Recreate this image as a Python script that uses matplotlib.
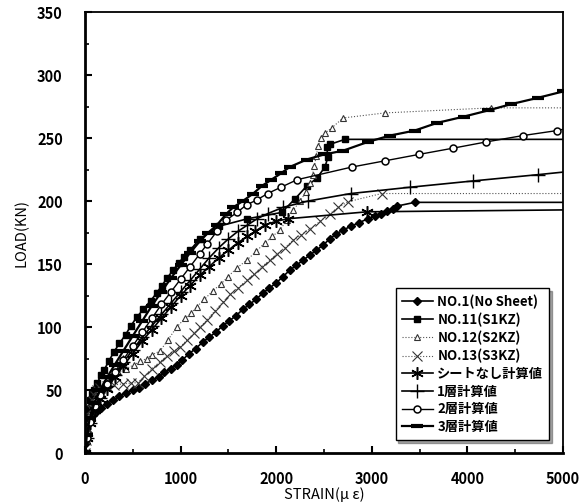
import matplotlib
matplotlib.use('Agg')
import matplotlib.pyplot as plt
from matplotlib.ticker import MultipleLocator

plt.rcParams['font.family'] = ['Noto Sans CJK JP', 'DejaVu Sans']

# --- data (strain in micro-strain, load in kN) ---
no1_x = [0, 15, 30, 50, 80, 120, 170, 230, 290, 360, 430, 500, 560, 630, 700, 770, 830, 900,
         960, 1020, 1090, 1160, 1230, 1300, 1370, 1440, 1510, 1580, 1650, 1720, 1790, 1860,
         1930, 2000, 2070, 2140, 2210, 2280, 2350, 2420, 2490, 2560, 2630, 2700, 2780, 2870,
         2960, 3030, 3100, 3160, 3220, 3260, 3450]
no1_y = [0, 8, 16, 25, 30, 33, 36, 39, 42, 45, 48, 50, 52, 55, 58, 60, 64, 67,
         70, 74, 79, 83, 88, 92, 96, 101, 105, 109, 114, 118, 122, 127,
         131, 135, 140, 145, 149, 153, 157, 161, 165, 170, 174, 177, 180, 183,
         186, 188, 190, 192, 194, 196, 199]

no11_x = [0, 10, 20, 35, 50, 70, 95, 130, 170, 200, 250, 300, 360, 425, 480, 543, 610, 687,
          750, 805, 860, 920, 980, 1040, 1100, 1200, 1400, 1700, 2057, 2200, 2320, 2424,
          2510, 2542, 2528, 2560, 2720]
no11_y = [0, 14, 25, 35, 42, 47, 50, 56, 62, 66, 73, 80, 87, 94, 101, 108, 114, 121,
          127, 133, 139, 145, 151, 156, 161, 170, 180, 186, 191, 202, 212, 218,
          227, 235, 243, 245, 249]

no12_x = [0, 10, 20, 35, 50, 70, 100, 140, 200, 270, 350, 430, 512, 580, 645, 700, 785, 870,
          960, 1046, 1110, 1168, 1250, 1339, 1420, 1496, 1590, 1691, 1790, 1883, 1960, 2040,
          2110, 2180, 2250, 2310, 2350, 2380, 2400, 2420, 2440, 2470, 2510, 2580, 2700, 3140,
          4250]
no12_y = [0, 10, 18, 26, 32, 38, 44, 50, 56, 61, 64, 67, 70, 73, 75, 78, 81, 90,
          100, 107, 111, 116, 122, 129, 134, 140, 147, 153, 160, 167, 172, 177,
          185, 193, 200, 207, 214, 221, 228, 236, 244, 250, 254, 258, 266, 270,
          274]

no13_x = [0, 10, 25, 40, 60, 80, 100, 130, 160, 230, 300, 400, 480, 554, 620, 700, 785, 860,
          930, 994, 1070, 1140, 1203, 1280, 1360, 1444, 1520, 1600, 1691, 1770, 1850, 1935,
          2010, 2090, 2176, 2260, 2354, 2460, 2563, 2650, 2751, 3103]
no13_y = [0, 10, 20, 28, 35, 41, 45, 50, 52, 53, 54, 55, 55.5, 56, 61, 67, 72.5, 77,
          81, 84, 90, 95, 100, 106, 113, 120, 126, 131, 137, 142, 148, 153,
          158, 163, 169, 173, 178, 184, 190, 195, 199.5, 206]

calc0_x = [0, 20, 50, 100, 160, 230, 310, 400, 500, 600, 700, 800, 900, 1000, 1100, 1200,
           1300, 1400, 1500, 1600, 1700, 1780, 1880, 2000, 2125, 2950, 5000]
calc0_y = [0, 12, 24, 34, 43, 51, 60, 69, 79, 89, 98, 107, 116, 125, 133, 141,
           148, 155, 161, 167, 172, 176, 181, 184, 186, 191.5, 193]

calc1_x = [0, 20, 50, 100, 160, 230, 310, 400, 500, 600, 700, 800, 900, 1000, 1100, 1200,
           1300, 1400, 1500, 1600, 1700, 1800, 1910, 2070, 2330, 2780, 3400, 4060, 4740, 5000]
calc1_y = [0, 12, 24, 35, 44, 53, 62, 72, 82, 92, 101, 110, 119, 128, 137, 146,
           155, 163, 170, 176, 181, 186, 190, 195, 200, 206, 211, 216, 221, 223]

calc2_x = [0, 20, 50, 100, 160, 230, 310, 400, 500, 600, 700, 800, 900, 1000, 1100, 1200,
           1280, 1380, 1480, 1590, 1690, 1800, 1910, 2050, 2220, 2790, 3140, 3490, 3850,
           4200, 4580, 4940, 5000]
calc2_y = [0, 12, 25, 37, 46, 55, 64, 74, 85, 96, 107, 118, 128, 138, 148, 158,
           166, 176, 185, 191, 197, 201, 206, 211, 217, 227, 232, 237, 242,
           247, 252, 256, 257]

calc3_x = [0, 20, 50, 100, 160, 230, 310, 400, 500, 600, 700, 800, 900, 1000, 1100, 1200,
           1290, 1380, 1480, 1550, 1650, 1760, 1850, 1950, 2050, 2140, 2320, 2500, 2700,
           2960, 3190, 3450, 3680, 3960, 4220, 4460, 4740, 5000]
calc3_y = [0, 14, 28, 40, 50, 60, 70, 81, 93, 105, 117, 128, 139, 149, 159, 168,
           175, 181, 190, 195, 200, 206, 212, 217, 222, 227, 233, 237, 240,
           247, 252, 256, 262, 267, 272, 277, 282, 287]

labels = ['NO.1(No Sheet)', 'NO.11(S1KZ)', 'NO.12(S2KZ)', 'NO.13(S3KZ)',
          'シートなし計算値', '1層計算値', '2層計算値', '3層計算値']

X_MAX = 5000

fig = plt.figure(figsize=(5.84, 5.04), dpi=100)
ax = fig.add_axes([0.1455, 0.101, 0.8185, 0.875])


def exp_series(xs, ys, **kw):
    # experimental curves run flat to the right edge after the last reading
    xx = list(xs) + [X_MAX]
    yy = list(ys) + [ys[-1]]
    return ax.plot(xx, yy, markevery=slice(0, len(xs)), **kw)


exp_series(no1_x, no1_y, color='black', lw=1.2, marker='D', ms=4, mfc='black',
           label=labels[0])
exp_series(no11_x, no11_y, color='black', lw=1.2, marker='s', ms=4.5, mfc='black',
           label=labels[1])
exp_series(no12_x, no12_y, color='#555555', lw=0.8, ls=':', marker='^', ms=5,
           mfc='white', mec='#333333', mew=0.8, label=labels[2])
exp_series(no13_x, no13_y, color='#555555', lw=0.8, ls=':', marker='x', ms=7,
           mec='#333333', mew=0.8, label=labels[3])

ax.plot(calc0_x, calc0_y, color='black', lw=1.2, marker=(6, 2, 0), ms=9, mew=1.1,
        markevery=slice(0, len(calc0_x) - 1), label=labels[4])
ax.plot(calc1_x, calc1_y, color='black', lw=1.2, marker='+', ms=10, mew=1.0,
        markevery=slice(0, len(calc1_x) - 1), label=labels[5])
ax.plot(calc2_x, calc2_y, color='black', lw=1.0, marker='o', ms=5, mfc='white',
        mew=1.1, markevery=slice(0, len(calc2_x) - 1), label=labels[6])
ax.plot(calc3_x, calc3_y, color='black', lw=1.6, marker='_', ms=8, mew=3,
        label=labels[7])

ax.set_xlim(0, X_MAX)
ax.set_ylim(0, 350)
ax.xaxis.set_major_locator(MultipleLocator(1000))
ax.xaxis.set_minor_locator(MultipleLocator(500))
ax.yaxis.set_major_locator(MultipleLocator(50))
ax.yaxis.set_minor_locator(MultipleLocator(25))
ax.tick_params(which='both', direction='in', top=False, right=False, labelsize=10.5)
ax.tick_params(which='major', length=5, width=1.5)
ax.tick_params(which='minor', length=3, width=1.2)
ax.tick_params(axis='x', which='major', pad=13)
ax.tick_params(axis='y', which='major', pad=16)
for lbl in ax.get_xticklabels() + ax.get_yticklabels():
    lbl.set_fontweight('bold')

for side in ['left', 'bottom']:
    ax.spines[side].set_linewidth(2)
for side in ['top', 'right']:
    ax.spines[side].set_linewidth(1.3)

ax.set_xlabel('STRAIN(μ ε)', fontsize=10.5, labelpad=0)
ax.set_ylabel('LOAD(KN)', fontsize=10.5, labelpad=6)

leg = ax.legend(loc='lower right', bbox_to_anchor=(0.985, 0.015),
                prop={'size': 9.5, 'weight': 'bold'},
                frameon=True, fancybox=False, shadow=True, handlelength=2.4,
                labelspacing=0.28, borderpad=0.45, handletextpad=0.3)
leg.get_frame().set_edgecolor('black')
leg.get_frame().set_linewidth(1.0)

fig.savefig('out.png', dpi=100)
